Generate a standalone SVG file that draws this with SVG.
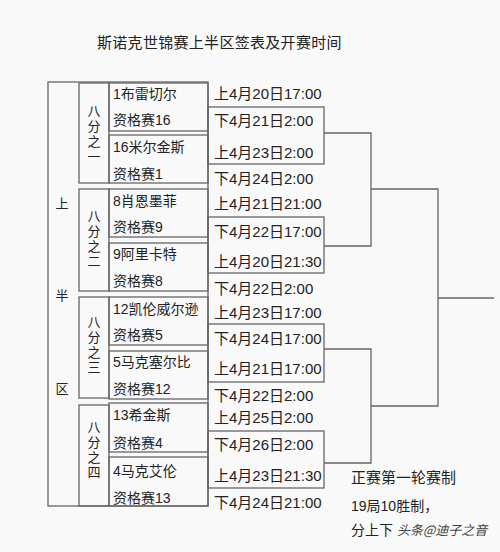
<svg xmlns="http://www.w3.org/2000/svg" width="500" height="552" viewBox="0 0 500 552">
<style>
.bx{fill:none;stroke:#666;stroke-width:1.3}
.ln{fill:none;stroke:#666;stroke-width:1.3}
.t{font-family:"Liberation Sans","Noto Sans CJK SC",sans-serif;font-size:14px;fill:#222}
.d{font-family:"Liberation Sans","Noto Sans CJK SC",sans-serif;font-size:15px;fill:#222}
.g{font-family:"Noto Sans CJK SC",sans-serif;font-size:13px;fill:#222;text-anchor:middle}
.v{font-family:"Noto Sans CJK SC",sans-serif;font-size:13px;fill:#222;text-anchor:middle;writing-mode:vertical-rl;letter-spacing:2px}
.ti{font-family:"Noto Sans CJK SC",sans-serif;font-size:15px;fill:#222}
</style>
<rect width="500" height="552" fill="#f9f9f9"/>
<text class="ti" x="97" y="48" letter-spacing="0.3">斯诺克世锦赛上半区签表及开赛时间</text>
<g id="half">
<rect class="bx" x="48" y="82" width="160" height="424"/>
<text class="g" x="62" y="208" font-size="15">上</text>
<text class="g" x="62" y="300" font-size="15">半</text>
<text class="g" x="62" y="393" font-size="15">区</text>
</g>
<g id="group1"><rect class="bx" x="79" y="83" width="30" height="100"/><text class="v" x="94" y="135">八分之一</text></g>
<g id="group2"><rect class="bx" x="79" y="189" width="30" height="102"/><text class="v" x="94" y="240">八分之二</text></g>
<g id="group3"><rect class="bx" x="79" y="297" width="30" height="101"/><text class="v" x="94" y="346">八分之三</text></g>
<g id="group4"><rect class="bx" x="79" y="405" width="30" height="101"/><text class="v" x="94" y="451">八分之四</text></g>
<g id="p1"><rect class="bx" x="109" y="83" width="99" height="48"/><text class="t" x="113" y="99">1布雷切尔</text><text class="t" x="113" y="125">资格赛16</text></g>
<g id="p2"><rect class="bx" x="109" y="135" width="99" height="48"/><text class="t" x="113" y="152">16米尔金斯</text><text class="t" x="113" y="179">资格赛1</text></g>
<g id="p3"><rect class="bx" x="109" y="189" width="99" height="48"/><text class="t" x="113" y="206">8肖恩墨菲</text><text class="t" x="113" y="232">资格赛9</text></g>
<g id="p4"><rect class="bx" x="109" y="243" width="99" height="48"/><text class="t" x="113" y="259">9阿里卡特</text><text class="t" x="113" y="286">资格赛8</text></g>
<g id="p5"><rect class="bx" x="109" y="297" width="99" height="48"/><text class="t" x="113" y="314">12凯伦威尔逊</text><text class="t" x="113" y="340">资格赛5</text></g>
<g id="p6"><rect class="bx" x="109" y="351" width="99" height="48"/><text class="t" x="113" y="367">5马克塞尔比</text><text class="t" x="113" y="394">资格赛12</text></g>
<g id="p7"><rect class="bx" x="109" y="403" width="99" height="49"/><text class="t" x="113" y="420">13希金斯</text><text class="t" x="113" y="448">资格赛4</text></g>
<g id="p8"><rect class="bx" x="109" y="457" width="99" height="49"/><text class="t" x="113" y="476">4马克艾伦</text><text class="t" x="113" y="503">资格赛13</text></g>
<g id="m1"><rect class="bx" x="208" y="107" width="116" height="57"/></g>
<g id="m2"><rect class="bx" x="208" y="217" width="116" height="56"/></g>
<g id="m3"><rect class="bx" x="208" y="324" width="116" height="58"/></g>
<g id="m4"><rect class="bx" x="208" y="431" width="116" height="57"/></g>
<g id="dates">
<text class="d" x="214" y="98.5">上4月20日17:00</text>
<text class="d" x="214" y="125.5">下4月21日2:00</text>
<text class="d" x="214" y="157.5">上4月23日2:00</text>
<text class="d" x="214" y="183.5">下4月24日2:00</text>
<text class="d" x="214" y="208.5">上4月21日21:00</text>
<text class="d" x="214" y="236.5">下4月22日17:00</text>
<text class="d" x="214" y="266.5">上4月20日21:30</text>
<text class="d" x="214" y="293.5">下4月22日2:00</text>
<text class="d" x="214" y="317.5">上4月23日17:00</text>
<text class="d" x="214" y="343.5">下4月24日17:00</text>
<text class="d" x="214" y="373.5">上4月21日17:00</text>
<text class="d" x="214" y="400.5">下4月22日2:00</text>
<text class="d" x="214" y="422.5">上4月25日2:00</text>
<text class="d" x="214" y="449.5">下4月26日2:00</text>
<text class="d" x="214" y="480.5">上4月23日21:30</text>
<text class="d" x="214" y="507.5">下4月24日21:00</text>
</g>
<g id="connectors">
<path class="ln" d="M324 133H371V246H324"/>
<path class="ln" d="M324 349H371V463H324"/>
<path class="ln" d="M371 189H438V406H371"/>
<path class="ln" d="M438 298H494"/>
</g>
<g id="note">
<text class="ti" x="351" y="483" font-size="14">正赛第一轮赛制</text>
<text class="t" x="351" y="511">19局10胜制，</text>
<text class="t" x="351" y="535">分上下</text>
<text x="397" y="535" font-family="Noto Sans CJK SC,sans-serif" font-size="13" fill="#444" font-style="italic">头条@迪子之音</text>
</g>
</svg>
